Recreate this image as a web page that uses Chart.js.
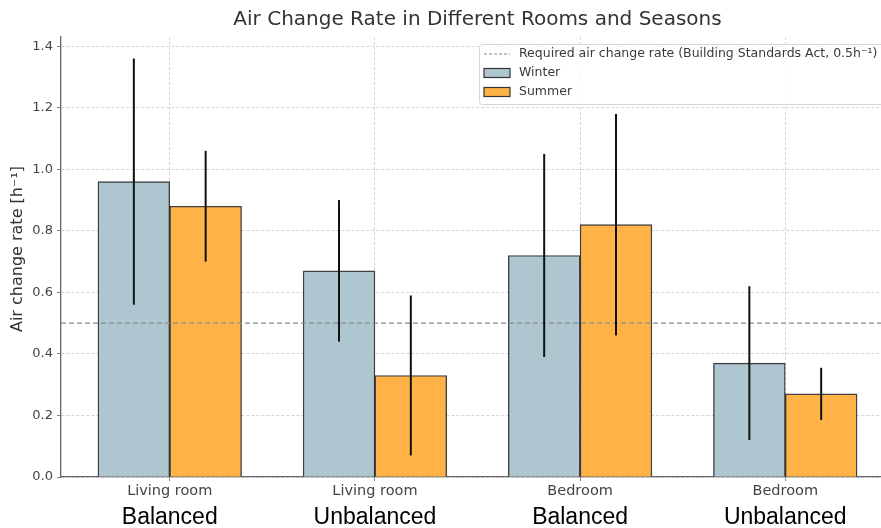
<!DOCTYPE html>
<html>
<head>
<meta charset="utf-8">
<script src="https://cdn.jsdelivr.net/npm/chart.js@4/dist/chart.umd.min.js"></script>
<style>
  html, body { margin: 0; padding: 0; background: #fff; overflow: hidden; }
  #wrap { width: 900px; height: 528px; }
</style>
</head>
<body>
<div id="wrap"><canvas id="chart" width="900" height="528"></canvas></div>
<script>
// Rooms along the x axis and the ventilation system of each
const rooms = ['Living room', 'Living room', 'Bedroom', 'Bedroom'];
const ventilation = ['Balanced', 'Unbalanced', 'Balanced', 'Unbalanced'];

// Mean air change rate [1/h] and standard deviation per season
const winterMean = [0.96, 0.67, 0.72, 0.37];
const winterErr  = [0.40, 0.23, 0.33, 0.25];
const summerMean = [0.88, 0.33, 0.82, 0.27];
const summerErr  = [0.18, 0.26, 0.36, 0.085];

// Legal minimum (Building Standards Act)
const requiredRate = 0.5;

const yTicks = [0.0, 0.2, 0.4, 0.6, 0.8, 1.0, 1.2, 1.4];

const WINTER = '#aec6cf';
const SUMMER = '#ffb347';
const BAR_OFFSET = 0.175;   // half bar width in category units

const errors = [winterErr, summerErr];

const errorBars = {
  id: 'errorBars',
  afterDatasetsDraw(chart) {
    const { ctx, chartArea } = chart;
    const y = chart.scales.y;
    // reference line at the required rate
    const ry = y.getPixelForValue(requiredRate);
    ctx.save();
    ctx.strokeStyle = '#8a8a8a';
    ctx.lineWidth = 1.2;
    ctx.setLineDash([5, 3]);
    ctx.beginPath();
    ctx.moveTo(chartArea.left, ry);
    ctx.lineTo(chartArea.right, ry);
    ctx.stroke();
    ctx.setLineDash([]);
    // error whiskers
    ctx.strokeStyle = '#111';
    ctx.lineWidth = 2;
    chart.data.datasets.forEach((ds, di) => {
      const meta = chart.getDatasetMeta(di);
      meta.data.forEach((bar, i) => {
        const v = ds.data[i].y;
        const e = errors[di][i];
        ctx.beginPath();
        ctx.moveTo(bar.x, y.getPixelForValue(v + e));
        ctx.lineTo(bar.x, y.getPixelForValue(v - e));
        ctx.stroke();
      });
    });
    ctx.restore();
  }
};

const decorations = {
  id: 'decorations',
  afterDraw(chart) {
    const { ctx, chartArea } = chart;
    const x = chart.scales.x;
    ctx.save();
    // title
    ctx.fillStyle = '#333';
    ctx.font = '20px "DejaVu Sans"';
    ctx.textAlign = 'center';
    ctx.textBaseline = 'middle';
    ctx.fillText('Air Change Rate in Different Rooms and Seasons',
      (chartArea.left + chartArea.right) / 2, 20);

    // y axis title
    ctx.save();
    ctx.translate(18, 249);
    ctx.rotate(-Math.PI / 2);
    ctx.font = '16px "DejaVu Sans"';
    ctx.fillText('Air change rate [h\u207B\u00B9]', 0, 0);
    ctx.restore();

    // ventilation type under each room label
    ctx.fillStyle = '#000';
    ctx.font = '23px "Liberation Sans"';
    ventilation.forEach((t, i) => {
      ctx.fillText(t, x.getPixelForValue(i), 518);
    });

    // legend box in the upper right of the plot
    const bx = 479, by = 44, bw = chartArea.right - 5 - bx, bh = 60;
    ctx.fillStyle = 'rgba(255,255,255,0.85)';
    ctx.strokeStyle = '#d6d6d6';
    ctx.lineWidth = 1;
    ctx.beginPath();
    ctx.roundRect(bx + 0.5, by + 0.5, bw, bh, 3);
    ctx.fill();
    ctx.stroke();

    ctx.font = '12.5px "DejaVu Sans"';
    ctx.textAlign = 'left';
    ctx.fillStyle = '#3a3a3a';
    const hx = 484, hw = 26, tx = 519;
    const rows = [54, 73, 92];
    // dashed handle
    ctx.strokeStyle = '#8a8a8a';
    ctx.lineWidth = 1.2;
    ctx.setLineDash([3, 2]);
    ctx.beginPath();
    ctx.moveTo(hx, rows[0]);
    ctx.lineTo(hx + hw, rows[0]);
    ctx.stroke();
    ctx.setLineDash([]);
    ctx.fillText('Required air change rate (Building Standards Act, 0.5h\u207B\u00B9)', tx, rows[0]);
    // patch handles
    [[WINTER, 'Winter'], [SUMMER, 'Summer']].forEach(([c, label], k) => {
      const ry = rows[k + 1];
      ctx.fillStyle = c;
      ctx.strokeStyle = '#333';
      ctx.lineWidth = 1.2;
      ctx.fillRect(hx, ry - 4.5, hw, 9);
      ctx.strokeRect(hx, ry - 4.5, hw, 9);
      ctx.fillStyle = '#3a3a3a';
      ctx.fillText(label, tx, ry);
    });
    ctx.restore();
  }
};

const toPoints = (arr, shift) => arr.map((v, i) => ({ x: i + shift, y: v }));

const barStyle = {
  borderColor: 'rgba(30,30,30,0.85)',
  borderWidth: 1.4,
  grouped: false,
  categoryPercentage: 1.0,
  barPercentage: 1.0
};

new Chart(document.getElementById('chart'), {
  type: 'bar',
  data: {
    datasets: [
      { label: 'Winter', data: toPoints(winterMean, -BAR_OFFSET), backgroundColor: WINTER, ...barStyle },
      { label: 'Summer', data: toPoints(summerMean, BAR_OFFSET), backgroundColor: SUMMER, ...barStyle }
    ]
  },
  options: {
    responsive: false,
    devicePixelRatio: 1,
    animation: false,
    layout: { padding: { top: 37, right: 6, left: 0, bottom: 0 } },
    plugins: {
      legend: { display: false },
      title: { display: false },
      tooltip: { enabled: false }
    },
    scales: {
      x: {
        type: 'linear',
        min: -0.53,
        max: 3.53,
        offset: false,
        z: 1,
        afterBuildTicks(scale) {
          scale.ticks = rooms.map((_, i) => ({ value: i }));
        },
        afterFit(scale) { scale.height = 51; },
        ticks: {
          callback: (v) => rooms[v] ?? '',
          font: { family: 'DejaVu Sans', size: 14.5 },
          color: '#444',
          padding: 2,
          maxRotation: 0,
          autoSkip: false
        },
        grid: {
          offset: false,
          color: 'rgba(185,185,185,0.75)',
          lineWidth: 0.8,
          tickLength: 4,
          tickColor: '#666'
        },
        border: { display: true, color: '#666', width: 1.3, dash: [3, 2] }
      },
      y: {
        min: 0,
        max: 1.43,
        z: 1,
        afterBuildTicks(scale) {
          scale.ticks = yTicks.map(v => ({ value: v }));
        },
        afterFit(scale) { scale.width = 61; },
        ticks: {
          callback: (v) => v.toFixed(1),
          font: { family: 'DejaVu Sans', size: 13 },
          color: '#444',
          padding: 4
        },
        grid: {
          color: 'rgba(185,185,185,0.75)',
          lineWidth: 0.8,
          tickLength: 4,
          tickColor: '#666'
        },
        border: { display: true, color: '#666', width: 1.3, dash: [3, 2] }
      }
    }
  },
  plugins: [errorBars, decorations]
});
</script>
</body>
</html>
